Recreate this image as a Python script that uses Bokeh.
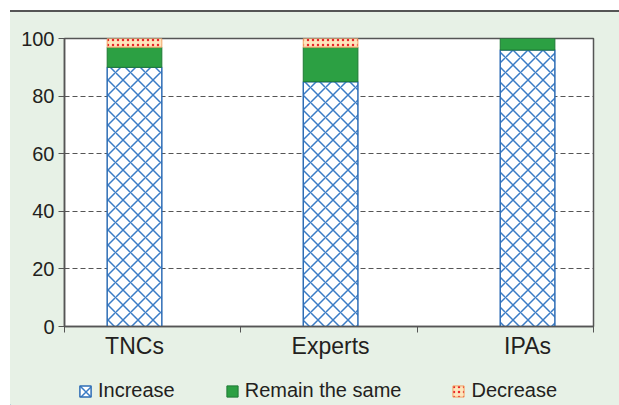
from bokeh.plotting import figure
from bokeh.models import Range1d, FixedTicker, Legend, LegendItem, ColumnDataSource, Div
from bokeh.layouts import column
from bokeh.embed import file_html
from bokeh.resources import INLINE

categories = ["TNCs", "Experts", "IPAs"]
increase = [90, 85, 96]
remain = [7, 12, 4]
decrease = [3, 3, 0]
y_ticks = [0, 20, 40, 60, 80, 100]
series_labels = ["Increase", "Remain the same", "Decrease"]

shift = [-0.103, 0.009, 0.126]
bar_x = [round(i + 0.5 + s, 3) for i, s in enumerate(shift)]

rem_top = [a + b for a, b in zip(increase, remain)]
dec_top = [a + b for a, b in zip(rem_top, decrease)]
dec_line_alpha = [1 if d > 0 else 0 for d in decrease]

src = ColumnDataSource(dict(x=bar_x, inc_top=increase, rem_bottom=increase, rem_top=rem_top,
                            dec_bottom=rem_top, dec_top=dec_top, dec_la=dec_line_alpha))

FONT = "Liberation Sans"
TXT = "#231f20"
BG = "#e7f1e6"
AX = "#555555"

INC = dict(fill_color="white", line_color="#2e6db5", line_width=1.5,
           hatch_pattern="x", hatch_color="#3a7cc6", hatch_scale=15, hatch_weight=1.5)
REM = dict(fill_color="#2ca043", line_color="#1f7a35", line_width=1)
DEC = dict(fill_color="#fde6bd", line_color="#f2a66a", line_width=1,
           hatch_pattern=".", hatch_color="#e8252a", hatch_scale=5, hatch_weight=4)

w = 0.31


def add_bars(fig, la="dec_la"):
    r1 = fig.vbar(x="x", bottom=0, top="inc_top", width=w, source=src, **INC)
    r2 = fig.vbar(x="x", bottom="rem_bottom", top="rem_top", width=w, source=src, **REM)
    r3 = fig.vbar(x="x", bottom="dec_bottom", top="dec_top", width=w, source=src,
                  line_alpha=la, **DEC)
    return [r1, r2, r3]


p = figure(width=609, height=358, output_backend="svg", toolbar_location=None,
           x_range=Range1d(0, 3), y_range=Range1d(0, 100),
           min_border_left=54, min_border_right=26, min_border_top=26, min_border_bottom=44,
           margin=0)
p.frame_align = False
p.border_fill_color = BG
p.background_fill_color = "white"
p.outline_line_color = AX
p.outline_line_width = 1.5
add_bars(p)

# x axis
p.xaxis.ticker = FixedTicker(ticks=bar_x, minor_ticks=[0, 1, 2, 3])
p.xaxis.major_label_overrides = {x: c for x, c in zip(bar_x, categories)}
p.xaxis.major_tick_out = 0
p.xaxis.major_tick_in = 0
p.xaxis.minor_tick_out = 6
p.xaxis.minor_tick_in = 0
p.xaxis.minor_tick_line_color = AX
p.xaxis.axis_line_color = AX
p.xaxis.axis_line_width = 1.5
p.xaxis.major_label_text_font = FONT
p.xaxis.major_label_text_font_size = "23px"
p.xaxis.major_label_text_color = TXT
p.xaxis.major_label_standoff = 0
p.xgrid.grid_line_color = None

# y axis
p.yaxis.ticker = FixedTicker(ticks=y_ticks)
p.yaxis.major_tick_out = 6
p.yaxis.major_tick_in = 0
p.yaxis.minor_tick_line_color = None
p.yaxis.major_tick_line_color = AX
p.yaxis.axis_line_color = AX
p.yaxis.axis_line_width = 1.5
p.yaxis.major_label_text_font = FONT
p.yaxis.major_label_text_font_size = "20px"
p.yaxis.major_label_text_color = TXT
p.yaxis.major_label_standoff = 4
p.ygrid.ticker = FixedTicker(ticks=[20, 40, 60, 80])
p.ygrid.grid_line_color = AX
p.ygrid.grid_line_dash = "5 3"
p.ygrid.grid_line_width = 1

# legend strip (its bars lie outside its visible ranges; only the legend shows)
lp = figure(width=609, height=35, output_backend="svg", toolbar_location=None,
            x_range=Range1d(10, 11), y_range=Range1d(200, 300),
            min_border_left=0, min_border_right=0, min_border_top=0, min_border_bottom=0,
            margin=0)
lp.frame_align = False
lp.axis.visible = False
lp.grid.visible = False
lp.outline_line_color = None
lp.background_fill_color = BG
lp.border_fill_color = BG
rs = add_bars(lp, la=1)
legend = Legend(items=[LegendItem(label=l, renderers=[r]) for l, r in zip(series_labels, rs)],
                orientation="horizontal", location=(68, 3),
                background_fill_alpha=0, border_line_color=None,
                label_text_font=FONT, label_text_font_size="20px", label_text_color=TXT,
                glyph_width=14, glyph_height=14, label_standoff=6, spacing=50,
                padding=0, margin=0)
lp.add_layout(legend)

topline = Div(width=609, height=2, margin=0, styles={"background-color": AX})

layout = column(topline, p, lp, spacing=0, margin=(10, 0, 0, 10),
                styles={"background-color": BG})
open("out.html", "w").write(file_html(layout, INLINE))
